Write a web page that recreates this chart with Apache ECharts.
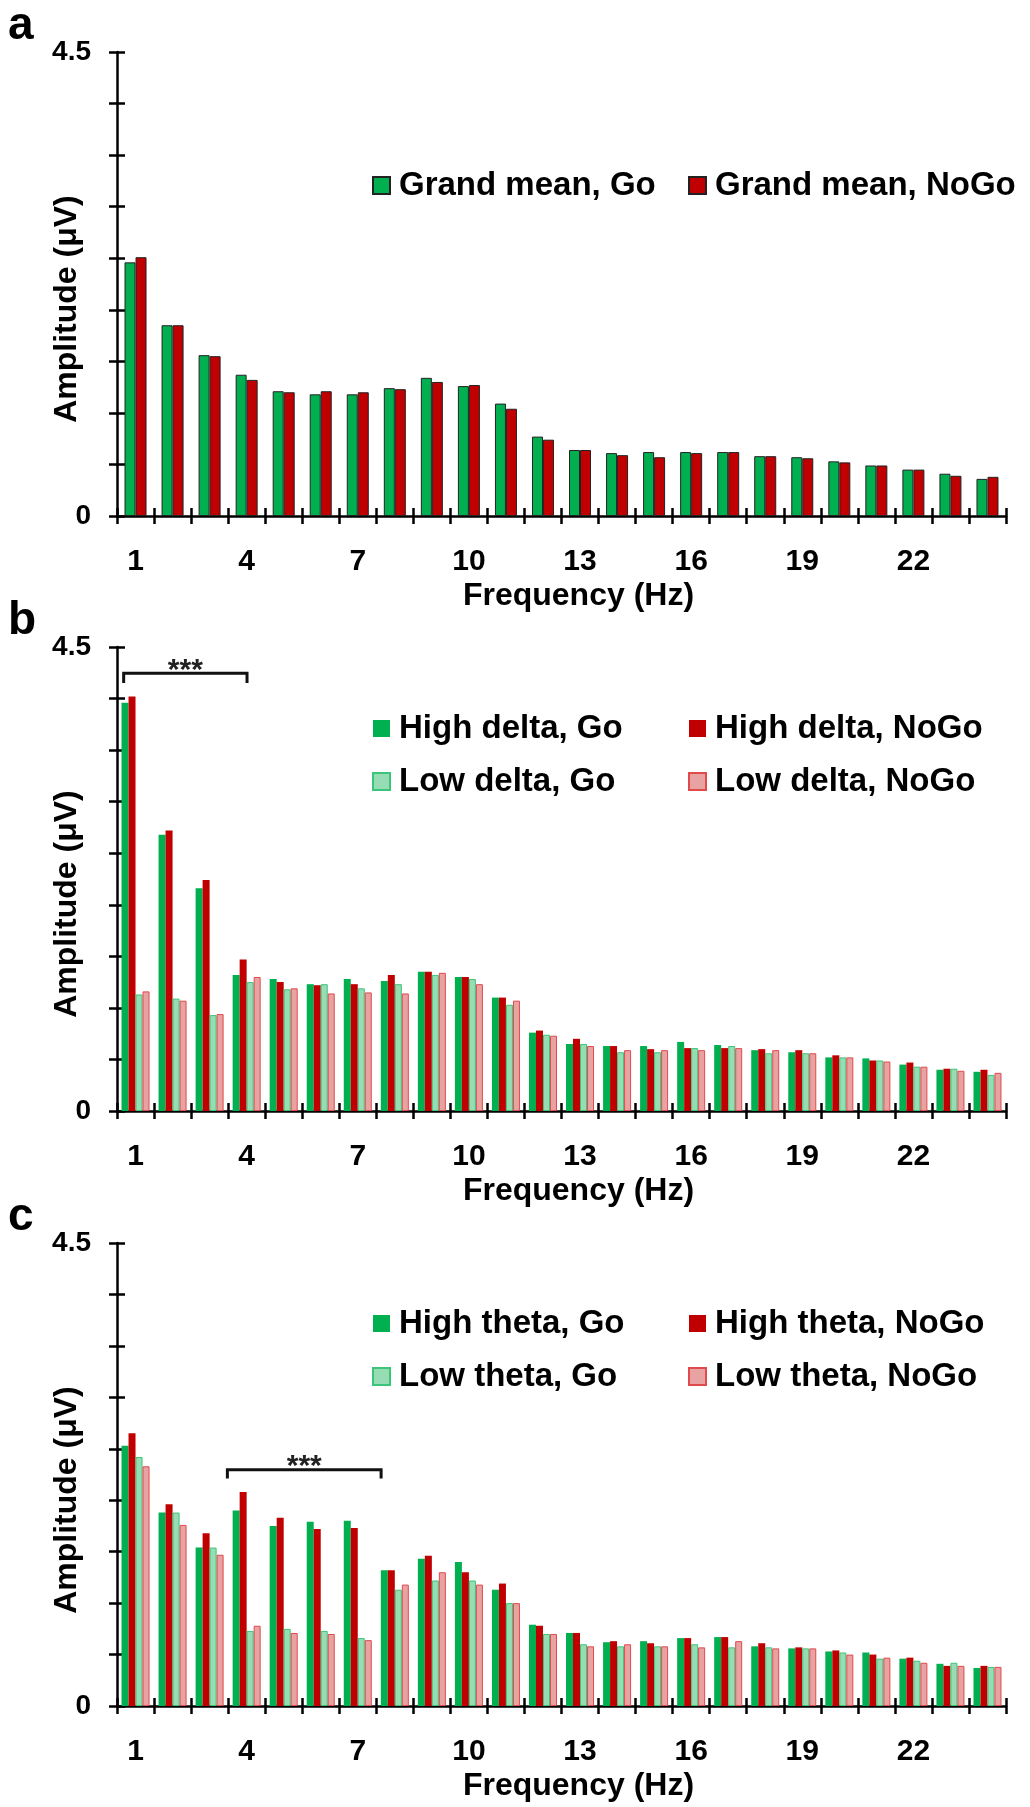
<!DOCTYPE html>
<html>
<head>
<meta charset="utf-8">
<script src="https://cdn.jsdelivr.net/npm/echarts@6/dist/echarts.min.js"></script>
<style>
html,body{margin:0;padding:0;background:#fff;}
#chart{width:1030px;height:1807px;}
</style>
</head>
<body>
<div id="chart"></div>
<script>
// ---------- data ----------
const freqs = ['1','2','3','4','5','6','7','8','9','10','11','12','13','14','15','16','17','18','19','20','21','22','23','24'];
const yTickLabels = ['0', '4.5'];

// panel a
const grandGo   = [2.46,1.85,1.56,1.37,1.21,1.18,1.18,1.24,1.34,1.26,1.09,0.77,0.64,0.61,0.62,0.62,0.62,0.58,0.57,0.53,0.49,0.45,0.41,0.36];
const grandNoGo = [2.51,1.85,1.55,1.32,1.20,1.21,1.20,1.23,1.30,1.27,1.04,0.74,0.64,0.59,0.57,0.61,0.62,0.58,0.56,0.52,0.49,0.45,0.39,0.38];

// panel b
const highDeltaGo   = [3.96,2.68,2.16,1.32,1.28,1.23,1.28,1.26,1.35,1.30,1.10,0.76,0.65,0.63,0.63,0.67,0.64,0.59,0.57,0.52,0.51,0.45,0.40,0.38];
const highDeltaNoGo = [4.02,2.72,2.24,1.47,1.25,1.22,1.23,1.32,1.35,1.30,1.10,0.78,0.70,0.63,0.60,0.61,0.61,0.60,0.59,0.54,0.49,0.47,0.41,0.40];
const lowDeltaGo    = [1.13,1.09,0.93,1.25,1.18,1.23,1.19,1.23,1.32,1.28,1.03,0.74,0.65,0.57,0.57,0.61,0.63,0.56,0.56,0.52,0.49,0.43,0.41,0.35];
const lowDeltaNoGo  = [1.16,1.07,0.94,1.30,1.19,1.14,1.15,1.14,1.34,1.23,1.07,0.73,0.63,0.59,0.59,0.59,0.61,0.59,0.56,0.52,0.48,0.43,0.39,0.37];

// panel c
const highThetaGo   = [2.53,1.88,1.54,1.90,1.75,1.79,1.80,1.32,1.43,1.40,1.13,0.79,0.71,0.62,0.63,0.66,0.67,0.58,0.56,0.53,0.52,0.46,0.41,0.37];
const highThetaNoGo = [2.65,1.96,1.68,2.08,1.83,1.72,1.73,1.32,1.46,1.30,1.19,0.78,0.71,0.63,0.61,0.66,0.67,0.61,0.57,0.54,0.50,0.47,0.39,0.39];
const lowThetaGo    = [2.42,1.88,1.54,0.73,0.75,0.73,0.66,1.13,1.22,1.22,1.00,0.70,0.60,0.58,0.58,0.60,0.57,0.57,0.56,0.52,0.46,0.44,0.42,0.38];
const lowThetaNoGo  = [2.33,1.76,1.47,0.78,0.71,0.70,0.64,1.18,1.30,1.18,1.00,0.70,0.58,0.60,0.58,0.57,0.63,0.56,0.56,0.50,0.47,0.42,0.39,0.38];

// significance brackets: [category index, start (in category widths), end, line value, end value]
const bracketB = [[0, 0.18, 3.51, 4.245, 4.15]];
const bracketC = [[0, 2.98, 7.13, 2.296, 2.21]];

// ---------- layout / styles ----------
const FONT = '"Liberation Sans", Arial, sans-serif';
const GREEN = '#00B050', RED = '#C00000';
const LGREEN = '#97DDB3', LGREEN_B = '#3CC47A';
const LRED = '#E8A2A2', LRED_B = '#E04A4D';
const panels = [{top: 52, h: 464}, {top: 647, h: 464}, {top: 1243, h: 463}];
const LEFT = 117, RIGHT = 24;

const grid = panels.map(p => ({left: LEFT, right: RIGHT, top: p.top, height: p.h}));
const xAxis = [], yAxis = [];
panels.forEach((p, i) => {
  xAxis.push({
    type: 'category', gridIndex: i, data: freqs, position: 'bottom', offset: 0,
    boundaryGap: true,
    axisLine: {show: true, lineStyle: {color: '#000', width: 2.5}},
    axisTick: {show: true, inside: false, length: 8, interval: 0, lineStyle: {color: '#000', width: 2.5}},
    axisLabel: {show: true, interval: 2, margin: 31, color: '#000', fontSize: 30, fontWeight: 'bold', fontFamily: FONT},
    splitLine: {show: false},
    name: 'Frequency (Hz)', nameLocation: 'middle', nameGap: 64,
    nameTextStyle: {color: '#000', fontSize: 32, fontWeight: 'bold', fontFamily: FONT, padding: [0, 0, 0, 34]}
  });
  xAxis.push({
    type: 'category', gridIndex: i, data: freqs, position: 'bottom', offset: 0,
    boundaryGap: true,
    axisLine: {show: false},
    axisTick: {show: true, inside: true, length: 8, interval: 0, lineStyle: {color: '#000', width: 2.5}},
    axisLabel: {show: false}, splitLine: {show: false}
  });
  yAxis.push({
    type: 'value', gridIndex: i, min: 0, max: 4.5, interval: 0.5, position: 'left', offset: 0,
    axisLine: {show: true, lineStyle: {color: '#000', width: 2.5}},
    axisTick: {show: true, inside: false, length: 8, lineStyle: {color: '#000', width: 2.5}},
    axisLabel: {show: true, margin: 26, color: '#000', fontSize: 28, fontWeight: 'bold', fontFamily: FONT,
      formatter: v => { const s = String(v); return yTickLabels.indexOf(s) >= 0 ? s : ''; }},
    splitLine: {show: false}
  });
  yAxis.push({
    type: 'value', gridIndex: i, min: 0, max: 4.5, interval: 0.5, position: 'left', offset: 0,
    axisLine: {show: false},
    axisTick: {show: true, inside: true, length: 8, lineStyle: {color: '#000', width: 2.5}},
    axisLabel: {show: false}, splitLine: {show: false}
  });
});

function bar(name, data, panel, color, border, bw, width) {
  return {
    type: 'bar', name: name, data: data, xAxisIndex: panel * 2, yAxisIndex: panel * 2,
    barWidth: width, barGap: '0%',
    itemStyle: {color: color, borderColor: border, borderWidth: bw},
    emphasis: {disabled: true}
  };
}

function bracket(data, panel) {
  return {
    type: 'custom', xAxisIndex: panel * 2, yAxisIndex: panel * 2, data: data, clip: false, z: 10,
    encode: {x: 0, y: 3},
    renderItem: function (params, api) {
      const c0 = api.coord([api.value(0), api.value(3)]);
      const w = api.size([1, 0])[0];
      const base = c0[0] - w / 2;
      const x1 = base + api.value(1) * w;
      const x2 = base + api.value(2) * w;
      const yl = c0[1];
      const ye = api.coord([api.value(0), api.value(4)])[1];
      return {
        type: 'group',
        children: [
          {type: 'polyline', shape: {points: [[x1, ye], [x1, yl], [x2, yl], [x2, ye]]},
           style: {stroke: '#111', lineWidth: 3, fill: null}},
          {type: 'text', x: (x1 + x2) / 2, y: yl - 3,
           style: {text: '***', font: 'bold 30px ' + FONT, textAlign: 'center', textVerticalAlign: 'middle', fill: '#222'}}
        ]
      };
    }
  };
}

const series = [
  bar('Grand mean, Go', grandGo, 0, GREEN, '#222', 1, 11),
  bar('Grand mean, NoGo', grandNoGo, 0, RED, '#222', 1, 11),
  bar('High delta, Go', highDeltaGo, 1, GREEN, GREEN, 0, 7),
  bar('High delta, NoGo', highDeltaNoGo, 1, RED, RED, 0, 7),
  bar('Low delta, Go', lowDeltaGo, 1, LGREEN, LGREEN_B, 1, 7),
  bar('Low delta, NoGo', lowDeltaNoGo, 1, LRED, LRED_B, 1, 7),
  bar('High theta, Go', highThetaGo, 2, GREEN, GREEN, 0, 7),
  bar('High theta, NoGo', highThetaNoGo, 2, RED, RED, 0, 7),
  bar('Low theta, Go', lowThetaGo, 2, LGREEN, LGREEN_B, 1, 7),
  bar('Low theta, NoGo', lowThetaNoGo, 2, LRED, LRED_B, 1, 7),
  bracket(bracketB, 1),
  bracket(bracketC, 2)
];

function legend(names, left, top) {
  return {
    data: names, left: left, top: top, orient: 'vertical', padding: 0, itemGap: 20,
    itemWidth: 17, itemHeight: 17, icon: 'rect', selectedMode: false,
    textStyle: {color: '#000', fontSize: 33, fontWeight: 'bold', fontFamily: FONT, lineHeight: 33, padding: [0, 0, 0, 4]}
  };
}

const legends = [
  legend(['Grand mean, Go'], 372, 169),
  legend(['Grand mean, NoGo'], 688, 169),
  legend(['High delta, Go', 'Low delta, Go'], 372, 712),
  legend(['High delta, NoGo', 'Low delta, NoGo'], 688, 712),
  legend(['High theta, Go', 'Low theta, Go'], 372, 1307),
  legend(['High theta, NoGo', 'Low theta, NoGo'], 688, 1307)
];

const letters = ['a', 'b', 'c'];
const graphic = [];
panels.forEach((p, i) => {
  graphic.push({type: 'text', left: 8, top: p.top - 49,
    style: {text: letters[i], font: 'bold 46px ' + FONT, fill: '#000'}});
  graphic.push({type: 'text', x: 67, y: p.top + 257, rotation: Math.PI / 2,
    style: {text: 'Amplitude (μV)', font: 'bold 32px ' + FONT, fill: '#000', textAlign: 'center', textVerticalAlign: 'middle'}});
});

const chart = echarts.init(document.getElementById('chart'), null, {renderer: 'canvas'});
chart.setOption({
  animation: false,
  backgroundColor: '#fff',
  grid: grid, xAxis: xAxis, yAxis: yAxis,
  legend: legends, series: series, graphic: graphic
});
</script>
</body>
</html>
